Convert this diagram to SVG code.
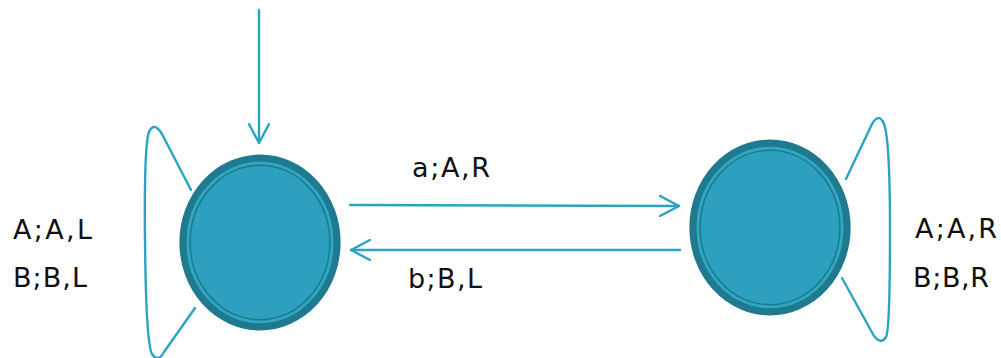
<svg xmlns="http://www.w3.org/2000/svg" width="1001" height="358" viewBox="0 0 1001 358">
  <style>
    .ring { fill: #2ca0be; stroke: #1f7a8f; stroke-width: 7.3; }
    .inner-light { fill: none; stroke: #2fa8c6; stroke-width: 2.7; }
    .inner-dark { fill: none; stroke: #1f7a8f; stroke-width: 1.6; }
    .edge { fill: none; stroke: #2ba4c4; stroke-width: 2.4; stroke-linecap: round; stroke-linejoin: round; }
    .label { font-family: "DejaVu Sans", "Open Sans", sans-serif; font-size: 27px; fill: #111; }
  </style>
  <defs>
    <marker id="open-arrow" viewBox="0 0 22 22" refX="20" refY="11" markerWidth="22" markerHeight="22" markerUnits="userSpaceOnUse" orient="auto">
      <path d="M1,1 L20,11 L1,21" fill="none" stroke="#2ba4c4" stroke-width="2.4" stroke-linecap="round" stroke-linejoin="round"/>
    </marker>
  </defs>

  <!-- transitions and self-loops -->
  <g id="connectors">
    <line class="edge" x1="259" y1="10" x2="259" y2="143" marker-end="url(#open-arrow)"/>
    <line class="edge" x1="350" y1="205" x2="679" y2="206" marker-end="url(#open-arrow)"/>
    <line class="edge" x1="680" y1="250" x2="351" y2="250" marker-end="url(#open-arrow)"/>
    <path class="edge" d="M191,190 L162,134 Q154,121 149,132 Q144,145 145,240 Q146,343 152,354 Q158,363 164,352 L195,308"/>
    <path class="edge" d="M846,179 L872,124 Q879,112 884,124 Q890,140 890,230 Q890,330 886,337 Q881,345 874,336 L842,278"/>
  </g>

  <!-- start state q0 (accepting) -->
  <g id="q0">
    <ellipse class="ring" cx="260" cy="242.5" rx="77" ry="84.3"/>
    <ellipse class="inner-light" cx="260" cy="242.5" rx="72" ry="79.3"/>
    <ellipse class="inner-dark" cx="260" cy="242.5" rx="69.9" ry="77.2"/>
  </g>

  <!-- state q1 (accepting) -->
  <g id="q1">
    <ellipse class="ring" cx="770" cy="227.5" rx="77" ry="84.3"/>
    <ellipse class="inner-light" cx="770" cy="227.5" rx="72" ry="79.3"/>
    <ellipse class="inner-dark" cx="770" cy="227.5" rx="69.9" ry="77.2"/>
  </g>

  <!-- transition labels -->
  <g id="labels">
    <text class="label" x="412" y="177" textLength="78" lengthAdjust="spacing">a;A,R</text>
    <text class="label" x="408" y="288" textLength="74" lengthAdjust="spacing">b;B,L</text>
    <text class="label" x="13" y="239" textLength="79" lengthAdjust="spacing">A;A,L</text>
    <text class="label" x="13" y="287" textLength="74" lengthAdjust="spacing">B;B,L</text>
    <text class="label" x="915" y="238" textLength="82" lengthAdjust="spacing">A;A,R</text>
    <text class="label" x="913" y="287" textLength="76" lengthAdjust="spacing">B;B,R</text>
  </g>
</svg>
